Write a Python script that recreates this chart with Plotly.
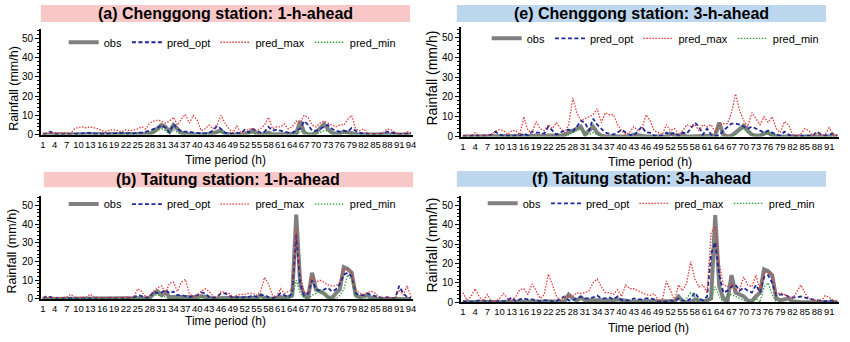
import plotly.graph_objects as go

# ---------------- data ----------------
t94 = list(range(1, 95))
t93 = list(range(1, 94))
ticks94 = list(range(1, 95, 3))
ticks93 = list(range(1, 94, 3))

# (a) Chenggong 1-h-ahead
obs_a = [0,0,0.5,0,0,0,0,0,0,0,
         0,0,0.5,0,0,0,0,0,0,0,
         0,0,0,0,0,0,0,0.5,1.5,3,
         5,4,1.5,5,3,1,0.5,0,0,0,
         0,0,0,0.5,1.5,2,0.5,0,0,0,
         0,0,1,2,0.5,0,0.5,1,0,0,
         0,0,0,0,0.5,7,1,0,0,1,
         3,5.5,3,1,0.5,0.5,1.5,1,0.5,0,
         0,0,0,0,0,0,0,0,0,0,
         0,0,0,0]
opt_a = [0.3,0.5,1.5,0.3,0.2,0.2,0.2,0.3,0.3,0.3,
         0.5,1,0.8,0.3,0.3,0.3,0.3,0.5,0.5,0.8,
         0.5,0.5,0.8,0.5,1,1,1.5,2,3,3.5,
         5,3.5,1,5.5,3,1.5,1.5,1.5,1,0.8,
         0.5,0.5,1,2,4.5,3,1,0.5,0.5,1,
         0.5,2.5,1,3,2,1,1.5,4,2,2.5,
         2,1.5,1,1,2,3,7,5,2,2,
         3,4,5,3,2,1.5,2,1.5,3.5,2,
         1,0.5,0.3,0.3,0.3,0.3,0.5,1.5,1,0.5,
         0.3,0.3,0.5,0.3]
max_a = [0.5,0.5,1,0.8,0.8,1,0.8,0.5,3,3.8,
         4,3.5,4,3.5,3,2,1.5,2.5,2.5,2,
         1.5,2.5,2,2.5,3,4,3,6,7,7.5,
         7,6,7,9,5,8,10.5,6,10,7.5,
         2,3,5,3,5,10,6,3,1,4.5,
         1,1,3,3,2,3,5,9,3,4,
         4,5.5,3,4,7,6,10,9,5,4,
         6,7,6,5,4,5,5,8,10,3,
         2,3,0.5,0.5,0.5,0.5,1,3,2.5,1,
         0.5,0.3,1.5,1]
min_a = [0,0,0,0,0,0,0,0,0,0,
         0,0,0,0,0,0,0,0,0,0,
         0,0,0,0,0,0,0,0,1,2,
         3,2,0.5,2.5,1,0,0,0,0,0,
         0,0,0,0,1,1.5,0,0,0,0,
         0,0,0.5,1,0,0,0,0.5,0,0,
         0,0,0,0,0,1.5,2,0.5,0,0,
         1,2,2,0.5,0,0,1,0.5,0,0,
         0,0,0,0,0,0,0,0,0,0,
         0,0,0,0]

# (e) Chenggong 3-h-ahead
obs_e = [0,0,0,0,0,0,0,0,0,0,
         0,0,0,0,0,0,0,0,0,0,
         0,0,0,0.3,0.5,1,2,3,4,5,
         1,3,5,2,0.5,0,0,0,0,0,
         0,0,1,0.5,0,0,0,0,0,0,
         0,1.5,0.5,0,1,0,0,0,0,0,
         0,0,0.5,7,1,0,0.5,2,4,5.5,
         3,1,0.5,0.5,1.5,2,0.5,0,0,0,
         0,0,0,0,0,0,0,0,0,0,
         0,0,0]
opt_e = [0.2,0.2,0.2,0.3,0.2,0.2,0.5,1,2.5,1,
         0.3,0.3,0.3,0.3,0.5,1.5,0.5,2.5,2,2,
         1.5,5,3,1,2,3,3.5,2.5,5,8,
         7,3,9,6,4,2,1.5,1,2,3.5,
         2,1,0.5,3,5,2,2,0.5,0.5,0.5,
         2,1,2,0.5,2,1.5,4,7,5,1,
         4,1,0.5,0.5,3,5,6.5,6.5,6,5,
         4,5,4,3,2,3,2,1,0.5,2.5,
         1,0.3,0.3,0.3,0.5,0.5,0.5,2.5,1,0.5,
         1,1.5,0.5]
max_e = [0.3,0.3,0.5,2,0.5,0.5,0.5,1,2.5,3.5,
         3,1,3,3,1,10,3,2,7.5,4,
         3,6,4,7,4,2,6,19.5,12,8,
         9,10,11,14,7,12,11,11,6,3,
         1,2,5,3,4,11,8,3,2,1,
         6,3,4,1,3,6,5,6,3,6,
         5,6,2,6,6.5,6.5,12,21.5,13,8,
         5,12,9,6,10,7,10,4,2,7.5,
         6,1,0.5,1,4,3,0.5,2,0.5,1,
         4.5,1,0.5]
min_e = [0,0,0,0,0,0,0,0,0,0,
         0,0,0,0,0,0,0,0,0,0,
         0,0,0,0,0,0,1,2,3,4,
         1,1,2,1,0,0,0,0,0,0,
         0,0,0,0,0,0,0,0,0,0,
         0,0,0,0,0,0,0,0,0,0,
         0,0,0,0,0,0,0,1,3,4,
         2,1,0,0,1,2,0.5,0,0,0,
         0,0,0,0,0,0,0,0,0,0,
         0,0,0]

# (b) Taitung 1-h-ahead
obs_b = [0,0,0,0,0,0,0,0,0,0,
         0,0,0,0,0,0,0,0,0,0,
         0,0,0,0,0.5,0.5,0,0.5,3,4,
         2,3.5,1,1,0.5,0.5,0.5,0.5,0.5,1,
         1.5,1,0.5,0,0,0.5,0.5,0.5,0,0,
         0,0,0.5,0.5,0.5,2,0.5,0,0,0.5,
         1,0.5,1,2,45,8,2,0.5,14,5,
         4,3,1,0.5,3,5,17,16,14,2,
         1,1.5,2,0.5,0,0,0,0,0,0,
         0,0,0,0]
opt_b = [0.5,1.5,1,0.5,0.5,0.3,0.3,0.5,0.3,0.3,
         0.3,0.3,0.5,0.3,0.3,0.3,0.3,0.3,0.3,0.3,
         0.5,0.5,0.5,0.8,2,1.5,0.5,1,4,3,
         3.5,5,3,4,2,2,1.5,1,1.5,2,
         3.5,3,1,0.5,1,3,3,2,0.5,1,
         0.5,1,1,2,1,2,2,1,0.5,1,
         3,2,1,3,35,8,2,3,10,5,
         4.5,5,6,4,5,8,13,14,12,3,
         2,2,3,2,1.5,1,0.5,1,0.5,0.5,
         7,3,1,0.5]
max_b = [0.5,1,0.8,0.5,0.5,0.8,1,2.5,1,0.8,
         0.8,1,2.5,1,0.8,0.5,0.5,0.8,0.5,0.5,
         0.8,1,0.5,1,5.5,4,1,2,4,6,
         7,3,8.5,9,4,9,10.5,3,1,2,
         4,5.5,4,1.5,1,4,3.5,3,1,2,
         2.5,2.5,3,3,2,4,11.5,8,2,1,
         5.5,3,4,5,38,14,3,4,12,9,
         10,9,7.5,7,7,9,16,16,14,5,
         3,2.5,3.5,4,3,1,0.5,1,0.5,0.5,
         5,2,7,1]
min_b = [0,0,0,0,0,0,0,0,0,0,
         0,0,0,0,0,0,0,0,0,0,
         0,0,0,0,0.5,0,0,0,2,2,
         1.5,1,0,0,0,0,0,0,0,0,
         1,0,0,0,0,0,0,0,0,0,
         0,0,0,0,0,0,0,0,0,0,
         0,0,0,1,10,3,0.5,0,2,3,
         5,3,1,0,0,2,5,13,10,1,
         0,0,0,0,0,0,0,0,0,0,
         0,0,0,0]

# (f) Taitung 3-h-ahead
obs_f = [0,0,0,0,0,0,0,0,0,0,
         0,0,0,0,0,0,0,0,0,0,
         0,0,0.5,0.5,0,0.5,4,2,1,2.5,
         1,1,0.5,0.5,0.5,0.5,0.5,1,1.5,1,
         0.5,0,0,0.5,0.5,0.5,0,0,0,0,
         0.5,0.5,0.5,3,0.5,0,0,1.5,1,0.5,
         1,2,45,8,2,0.5,14,5,4,3,
         1,0.5,3,5,17,16,14,2,1,1.5,
         2,0.5,0,0,0,0,0,0,0,0,
         0,0,0]
opt_f = [0.5,0.3,0.3,0.5,1,1,0.5,0.5,0.3,0.5,
         0.5,1,2.5,0.5,1.5,2,1.5,1.5,1,0.5,
         1,1,0.5,0.5,2,3,1,1,2,3,
         2,2,2.5,3.5,2,2,2.5,1.5,3,1,
         1,1,2,1.5,1.5,2,2,1.5,0.5,0.5,
         0.5,1,0.5,2,1,0.5,2,5,2,1,
         3,25,31,14,5,6,8,9,6,7.5,
         6,5,9,5,13,14,10,3.5,4,4,
         3,2.5,2.5,3,2.5,2,1.5,1,1,0.5,
         1,0.5,0.3]
max_f = [5,1,3,7,3,0.5,4,0.5,0.5,2,
         4.5,2,0.5,3,6.5,7,4,9.5,6,2,
         4,14.5,9,3,1,3,3.5,3,5,4.5,
         5,6,10,12,8,5,5,4,6.5,3,
         9,7,7,6,5,4,3.5,4.5,1,1,
         11,6,1,9,6,10,21,12,8,9,
         5,36,39,20,9,8,10,6,7,13,
         9,8,14,6,15,16,14,4,5,4,
         3,2,5,9,5,2,1,1,0.5,3.5,
         2.5,1,0.5]
min_f = [0,0,0,0,0,0,0,0,0,0,
         0,0,0,0,0,0,0,0,0,0,
         0,0,0,0,0,0,0,0,0,0,
         0,0,0,0,0,0,0,0,0,0,
         0,0,0,0,0,0,0,0,0,0,
         0,0,0,0,0,2,5,3,0,0,
         0,3,8,3,0,4,4,3,2,1,
         0,0,2,0,8,10,4,0,0,0,
         0,0,0,0,0,0,0,0,0,0,
         0,0,0]

titles = ["(a) Chenggong station: 1-h-ahead", "(e) Chenggong station: 3-h-ahead",
          "(b) Taitung station: 1-h-ahead", "(f) Taitung station: 3-h-ahead"]
series_names = ["obs", "pred_opt", "pred_max", "pred_min"]

# ---------------- layout helpers ----------------
W, H = 850, 342
FONT = "Liberation Sans, Arial, sans-serif"
PINK = "#F8C8C8"
BLUE = "#BDD7EE"

def fx(x):
    return x / W

def fy(y):
    return 1 - y / H

panels = [
    dict(t=t94, data=(obs_a, opt_a, max_a, min_a), title=titles[0], box=(40, 5, 411, 22.5), boxc=PINK,
         tc=(225.5, 14), xd=(40, 414), yd=(137, 29.2), xr=(0.5, 94.5), ticks=ticks94,
         leg=(63, 43), yt=(13, 89.5, 12.5), xt=(226, 163, 12)),
    dict(t=t93, data=(obs_e, opt_e, max_e, min_e), title=titles[1], box=(458, 5, 829, 22.5), boxc=BLUE,
         tc=(643.5, 14), xd=(462, 842.3), yd=(139, 27.9), xr=(0.5, 93.5), ticks=ticks93,
         leg=(488, 39), yt=(433, 79, 14), xt=(652, 165, 12.5)),
    dict(t=t94, data=(obs_b, opt_b, max_b, min_b), title=titles[2], box=(43, 175, 414, 190.5), boxc=PINK,
         tc=(228.5, 183), xd=(40, 414), yd=(304.3, 199.5), xr=(0.5, 94.5), ticks=ticks94,
         leg=(63, 207.7), yt=(11, 255, 12.5), xt=(226, 327, 12)),
    dict(t=t93, data=(obs_f, opt_f, max_f, min_f), title=titles[3], box=(458, 174, 829, 190), boxc=BLUE,
         tc=(643.5, 182), xd=(462, 842.3), yd=(307.7, 199.1), xr=(0.5, 93.5), ticks=ticks93,
         leg=(484, 207), yt=(433, 249, 14), xt=(651, 334, 12)),
]

styles = [
    dict(color="#808080", width=4, dash="solid"),
    dict(color="#1C2A9A", width=1.8, dash="4px,2.5px"),
    dict(color="#E03A3A", width=1.3, dash="1.5px,1.5px"),
    dict(color="#2E9E3A", width=1.3, dash="1.5px,1.5px"),
]

fig = go.Figure()
layout = dict(width=W, height=H, margin=dict(l=0, r=0, t=0, b=0),
              paper_bgcolor="white", plot_bgcolor="white",
              font=dict(family=FONT, color="black"), shapes=[], annotations=[])

for k, p in enumerate(panels):
    sfx = "" if k == 0 else str(k + 1)
    legname = "legend" if k == 0 else "legend" + str(k + 1)
    for name, vals, st in zip(series_names, p["data"], styles):
        fig.add_trace(go.Scatter(
            x=p["t"], y=vals, mode="lines", name=name,
            line=dict(color=st["color"], width=st["width"], dash=st["dash"]),
            xaxis="x" + sfx, yaxis="y" + sfx, legend=legname, hoverinfo="skip"))
    layout["xaxis" + sfx] = dict(
        domain=[fx(p["xd"][0]), fx(p["xd"][1])], anchor="y" + sfx,
        range=list(p["xr"]), tickvals=p["ticks"], ticktext=[str(v) for v in p["ticks"]],
        tickangle=0, ticks="", showgrid=False, zeroline=False,
        showline=True, linecolor="black", linewidth=1.5,
        tickfont=dict(size=9.5, family=FONT, color="black"))
    layout["yaxis" + sfx] = dict(
        domain=[fy(p["yd"][0]), fy(p["yd"][1])], anchor="x" + sfx,
        range=[0, 55], tickvals=[0, 10, 20, 30, 40, 50], ticks="outside", ticklen=4,
        tickcolor="black", showgrid=False, zeroline=False,
        showline=True, linecolor="black", linewidth=1.5,
        minor=dict(dtick=2, ticks="outside", ticklen=2, tickcolor="black"),
        tickfont=dict(size=10, family=FONT, color="black"))
    layout[legname] = dict(
        orientation="h", x=fx(p["leg"][0]), xanchor="left", y=fy(p["leg"][1]), yanchor="middle",
        bgcolor="rgba(0,0,0,0)", borderwidth=0, itemwidth=30,
        font=dict(size=11, family=FONT, color="black"), tracegroupgap=0)
    x0, y0, x1, y1 = p["box"]
    layout["shapes"].append(dict(type="rect", xref="paper", yref="paper",
                                 x0=fx(x0), x1=fx(x1), y0=fy(y1), y1=fy(y0),
                                 fillcolor=p["boxc"], line=dict(width=0), layer="below"))
    layout["annotations"].append(dict(text="<b>%s</b>" % p["title"], xref="paper", yref="paper",
                                      x=fx(p["tc"][0]), y=fy(p["tc"][1]), xanchor="center", yanchor="middle",
                                      showarrow=False, font=dict(size=16, family=FONT, color="black")))
    layout["annotations"].append(dict(text="Rainfall (mm/h)", xref="paper", yref="paper", textangle=-90,
                                      x=fx(p["yt"][0]), y=fy(p["yt"][1]), xanchor="center", yanchor="middle",
                                      showarrow=False, font=dict(size=p["yt"][2], family=FONT, color="black")))
    layout["annotations"].append(dict(text="Time period (h)", xref="paper", yref="paper",
                                      x=fx(p["xt"][0]), y=fy(p["xt"][1]), xanchor="center", yanchor="middle",
                                      showarrow=False, font=dict(size=p["xt"][2], family=FONT, color="black")))

fig.update_layout(**layout)
fig.write_html("out.html")
